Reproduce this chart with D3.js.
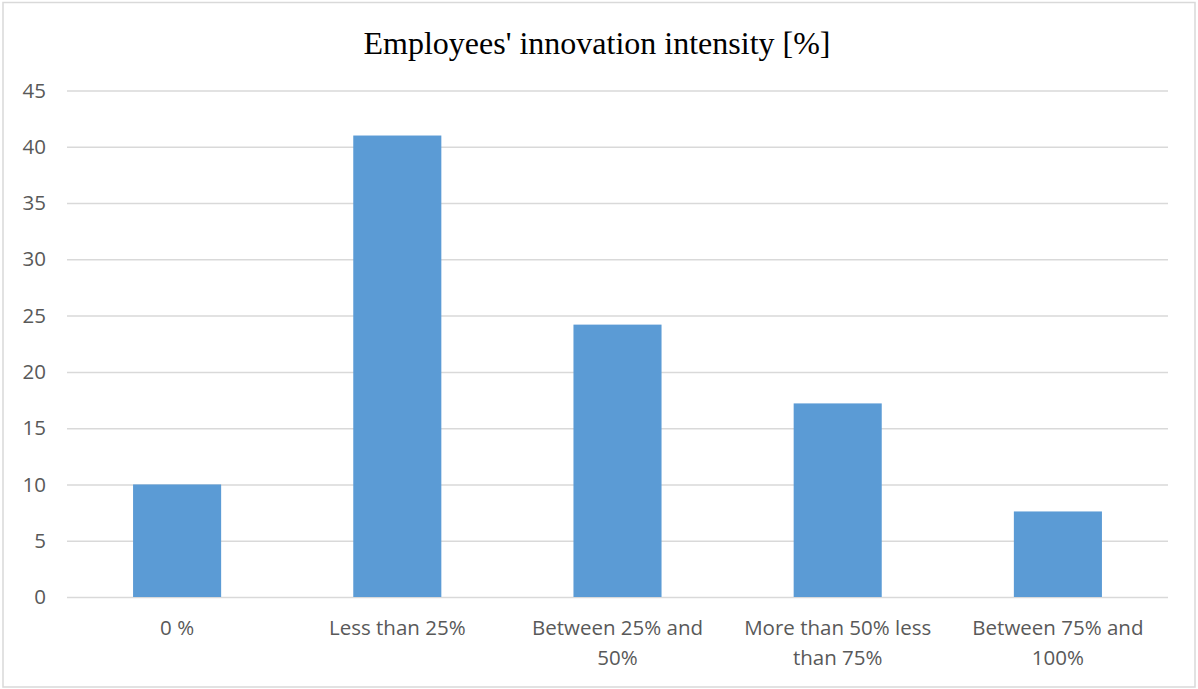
<!DOCTYPE html>
<meta charset="utf-8">
<style>
body { margin: 0; background: #fff; }
.title { font-family: "Liberation Serif", "Times New Roman", serif; font-size: 32px; fill: #000; }
.axis text { font-family: "Open Sans", "Noto Sans", sans-serif; font-size: 20.5px; fill: #595959; }
.grid line { stroke: #d9d9d9; stroke-width: 1.5; }
.grid path { stroke-width: 0; }
.bar { fill: #5b9bd5; }
</style>
<body>
<script src="https://cdn.jsdelivr.net/npm/d3@7"></script>
<script>

// data
var categories = ["0 %", "Less than 25%", "Between 25% and 50%", "More than 50% less than 75%", "Between 75% and 100%"];
var labelLines = [["0 %"], ["Less than 25%"], ["Between 25% and", "50%"], ["More than 50% less", "than 75%"], ["Between 75% and", "100%"]];
var values = [10, 41, 24.2, 17.2, 7.6];
var yTicks = [0, 5, 10, 15, 20, 25, 30, 35, 40, 45];

var W = 1198, H = 689;
var margin = {top: 90.5, right: 30, bottom: 92, left: 67},
    width = 1168 - margin.left,
    height = 597 - margin.top;

var svg = d3.select("body").append("svg")
    .attr("width", W)
    .attr("height", H);

// outer frame
svg.append("rect")
    .attr("x", 3).attr("y", 2.5)
    .attr("width", W - 6).attr("height", H - 4.5)
    .attr("fill", "#fff")
    .attr("stroke", "#d9d9d9")
    .attr("stroke-width", 1.5);

svg.append("text")
    .attr("class", "title")
    .attr("x", 597)
    .attr("y", 54)
    .style("text-anchor", "middle")
    .text("Employees' innovation intensity [%]");

var g = svg.append("g")
    .attr("transform", "translate(" + margin.left + "," + margin.top + ")");

var x = d3.scaleBand()
    .domain(categories)
    .range([0, width])
    .paddingInner(0.6)
    .paddingOuter(0.3);

var y = d3.scaleLinear()
    .domain([0, 45])
    .range([height, 0]);

// gridlines
g.append("g")
    .attr("class", "grid")
    .call(d3.axisLeft(y).tickValues(yTicks).tickSize(-width).tickFormat(""));

// y labels
g.append("g")
    .attr("class", "axis")
    .call(d3.axisLeft(y).tickValues(yTicks).tickSize(0).tickPadding(21))
    .call(function(s) { s.select(".domain").remove(); });

// bars
g.selectAll(".bar")
    .data(values)
  .enter().append("rect")
    .attr("class", "bar")
    .attr("x", function(d, i) { return x(categories[i]); })
    .attr("width", x.bandwidth())
    .attr("y", function(d) { return y(d); })
    .attr("height", function(d) { return height - y(d); });

// x labels (wrapped)
var xa = g.append("g")
    .attr("class", "axis")
    .attr("transform", "translate(0," + height + ")")
    .call(d3.axisBottom(x).tickSize(0).tickFormat(""))
    .call(function(s) { s.select(".domain").remove(); });

xa.selectAll(".tick").each(function(d, i) {
  var t = d3.select(this).append("text")
      .attr("y", 38)
      .style("text-anchor", "middle");
  labelLines[i].forEach(function(line, j) {
    t.append("tspan")
        .attr("x", 0)
        .attr("dy", j === 0 ? 0 : 30)
        .text(line);
  });
});

</script>
</body>
